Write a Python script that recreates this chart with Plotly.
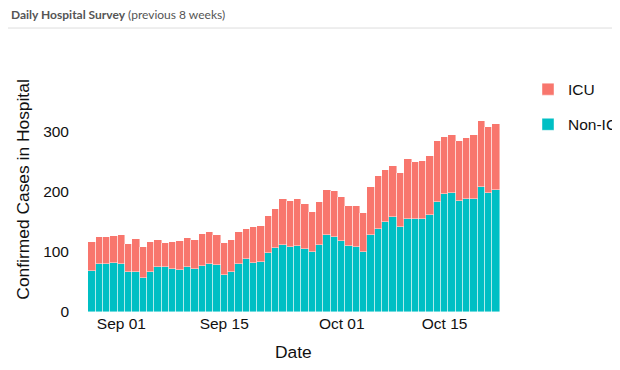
import pandas as pd
import plotly.graph_objects as go

# ---- data ----
start_date = "2020-08-28"
n_days = 56
dates = pd.date_range(start_date, periods=n_days, freq="D")

non_icu = [68, 80, 80, 82, 80, 67, 67, 57, 67, 75,
           74, 71, 70, 75, 72, 77, 80, 78, 61, 66,
           80, 88, 82, 83, 98, 106, 111, 107, 110, 104,
           100, 111, 127, 125, 117, 110, 107, 100, 128, 138,
           150, 157, 141, 154, 154, 154, 161, 183, 195, 198,
           184, 187, 188, 207, 197, 203]
icu = [48, 44, 45, 44, 47, 45, 54, 50, 49, 44,
       41, 45, 48, 48, 48, 52, 53, 49, 53, 54,
       52, 49, 59, 60, 62, 64, 76, 77, 77, 75,
       66, 71, 75, 76, 73, 65, 68, 65, 80, 87,
       86, 85, 89, 99, 95, 96, 97, 100, 95, 95,
       99, 102, 106, 110, 110, 109]

x_tick_vals = ["2020-09-01", "2020-09-15", "2020-10-01", "2020-10-15"]
x_tick_text = ["Sep 01", "Sep 15", "Oct 01", "Oct 15"]
y_tick_vals = [0, 100, 200, 300]

series_names = ["Non-IC", "ICU"]
series_colors = ["#00BFC4", "#F8766D"]
legend_ranks = [2, 1]

# ---- layout geometry (screen pixels; the page body adds an 8px offset) ----
OFF = 8
W, H = 620 - OFF, 370 - OFF
L, R = 86 - OFF, 502 - OFF
B = 312.3 - OFF
Y_TOP = 330
PX_PER_UNIT = 0.6027
T = B - Y_TOP * PX_PER_UNIT
PW, PH = R - L, B - T


def px_x(screen_px):
    return (screen_px - OFF - L) / PW


def px_y(screen_px):
    return (B - (screen_px - OFF)) / PH


FONT = "Liberation Sans, Arial, Helvetica, sans-serif"

fig = go.Figure()
for name, vals, col, rk in zip(series_names, [non_icu, icu], series_colors, legend_ranks):
    fig.add_trace(go.Bar(
        x=dates, y=vals, name=name, legendgroup=name, legendrank=rk,
        marker=dict(color=col, line=dict(color="rgba(255,255,255,0.55)", width=0.8)),
    ))

fig.update_layout(
    width=W, height=H,
    barmode="stack", bargap=0,
    paper_bgcolor="white", plot_bgcolor="white",
    margin=dict(l=L, r=W - R, t=T, b=H - B, pad=0, autoexpand=False),
    font=dict(family=FONT, color="#111111", size=15.5),
    showlegend=True,
    legend=dict(
        x=px_x(528), y=px_y(73), xanchor="left", yanchor="top",
        traceorder="grouped", tracegroupgap=12,
        font=dict(size=15.5, family=FONT, color="#111111"),
        bgcolor="rgba(0,0,0,0)",
    ),
    xaxis=dict(
        type="date",
        range=["2020-08-27 04:20", "2020-10-22 19:40"],
        tickvals=x_tick_vals, ticktext=x_tick_text,
        showgrid=False, zeroline=False, showline=False, automargin=False,
        ticks="", tickfont=dict(size=15.5),
    ),
    yaxis=dict(
        range=[0, Y_TOP],
        tickvals=y_tick_vals,
        showgrid=False, zeroline=False, showline=False, automargin=False,
        ticks="", ticklabelstandoff=16, tickfont=dict(size=15.5),
    ),
    annotations=[
        dict(text="<b>Daily Hospital Survey</b> (previous 8 weeks)",
             xref="paper", yref="paper", x=px_x(9), y=px_y(15),
             xanchor="left", yanchor="middle", showarrow=False,
             font=dict(family="Lato, Open Sans, sans-serif", size=12, color="#555555")),
        dict(text="Confirmed Cases in Hospital",
             xref="paper", yref="paper", x=px_x(23), y=px_y(190),
             xanchor="center", yanchor="middle", textangle=-90, showarrow=False,
             font=dict(family=FONT, size=17.4, color="#111111")),
        dict(text="Date",
             xref="paper", yref="paper", x=px_x(293), y=px_y(352),
             xanchor="center", yanchor="middle", showarrow=False,
             font=dict(family=FONT, size=17.4, color="#111111")),
    ],
    shapes=[
        dict(type="line", xref="paper", yref="paper",
             x0=px_x(OFF), x1=px_x(620), y0=px_y(28.5), y1=px_y(28.5),
             line=dict(color="#dddddd", width=1)),
    ],
)

fig.write_html("out.html")
